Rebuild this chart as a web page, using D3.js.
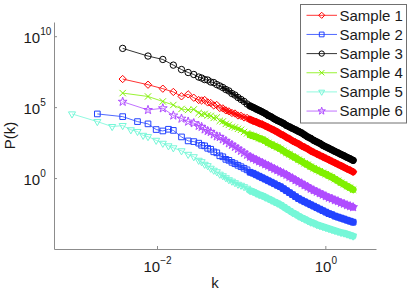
<!DOCTYPE html>
<html>
<head>
<meta charset="utf-8">
<script src="https://cdn.jsdelivr.net/npm/d3@7"></script>
<style>
  body { margin: 0; background: #fff; }
  text { font-family: "Liberation Sans", Arial, sans-serif; fill: #1a1a1a; }
</style>
</head>
<body>
<svg id="chart" width="415" height="292"></svg>
<script>
//data: log10 of k, shared grid (null = no point for that sample)
var log10k = [-3.01, -2.709, -2.533, -2.408, -2.311, -2.232, -2.165, -2.107, -2.01, -1.931, -1.864, -1.806, -1.709, -1.63, -1.563, -1.505,
  -1.47, -1.434, -1.398, -1.362, -1.326, -1.29, -1.254, -1.218, -1.182, -1.146, -1.11, -1.074, -1.038, -1.002, -0.966, -0.93, -0.894,
  -0.858, -0.822, -0.786, -0.75, -0.714, -0.678, -0.642, -0.606, -0.57, -0.534, -0.498, -0.462, -0.426, -0.39, -0.354, -0.318, -0.282,
  -0.246, -0.21, -0.174, -0.138, -0.102, -0.066, -0.03, 0.006, 0.042, 0.078, 0.114, 0.15, 0.186, 0.222, 0.258, 0.294, 0.33]

//log10 of P(k) for each sample
var log10P1 = [null, null, null, 6.98, null, null, null, 6.58, null, 6.30, null, 6.07, 5.76, 5.90, 5.66, 5.50,
  5.47, 5.50, 5.33, 5.29, 5.12, 5.15, 4.94, 4.91, 4.77, 4.70, 4.59, 4.55, 4.41, 4.38, 4.27, 4.24, 4.13, 4.03, 3.96, 3.85, 3.78, 3.68,
  3.57, 3.47, 3.36, 3.25, 3.11, 3.01, 2.87, 2.76, 2.62, 2.52, 2.41, 2.27, 2.17, 2.06, 1.92, 1.81, 1.71, 1.60, 1.50, 1.39, 1.29, 1.18,
  1.08, 0.97, 0.87, 0.76, 0.65, 0.55, 0.44]
var log10P2 = [null, 4.52, null, 4.33, null, 3.98, null, 3.82, 3.42, 3.32, 3.44, 3.36, 2.90, 2.62, 2.57, 2.46,
  2.31, 2.27, 2.10, 2.03, 1.85, 1.78, 1.57, 1.50, 1.32, 1.25, 1.11, 1.01, 0.90, 0.80, 0.69, 0.58, 0.41, 0.34, 0.23, 0.13, 0.02, -0.08,
  -0.19, -0.29, -0.40, -0.51, -0.61, -0.75, -0.89, -1.03, -1.17, -1.31, -1.45, -1.56, -1.67, -1.77, -1.88, -1.98, -2.09, -2.19, -2.30,
  -2.40, -2.51, -2.58, -2.68, -2.75, -2.82, -2.89, -2.97, -3.04, -3.11]
var log10P3 = [null, null, null, 9.14, null, null, null, 8.60, null, 8.36, null, 7.96, 7.65, 7.44, 7.30, 7.12,
  7.05, 6.94, 6.91, 6.77, 6.73, 6.59, 6.49, 6.38, 6.24, 6.14, 5.96, 5.85, 5.68, 5.54, 5.40, 5.22, 5.08, 4.98, 4.87, 4.77, 4.66, 4.55,
  4.41, 4.31, 4.17, 4.06, 3.96, 3.85, 3.71, 3.61, 3.50, 3.40, 3.29, 3.18, 3.04, 2.90, 2.80, 2.66, 2.55, 2.45, 2.31, 2.20, 2.10, 1.99,
  1.88, 1.78, 1.67, 1.57, 1.46, 1.36, 1.25]
var log10P4 = [null, null, null, 5.99, null, null, null, 5.75, null, 5.40, null, 5.15, 4.87, 4.80, 4.84, 4.59,
  4.48, 4.52, 4.41, 4.38, 4.24, 4.27, 4.03, 3.99, 3.82, 3.75, 3.61, 3.57, 3.47, 3.40, 3.25, 3.15, 3.04, 2.97, 2.90, 2.80, 2.73, 2.62,
  2.48, 2.38, 2.27, 2.17, 2.06, 1.92, 1.78, 1.67, 1.53, 1.43, 1.29, 1.18, 1.04, 0.94, 0.80, 0.69, 0.58, 0.48, 0.37, 0.27, 0.16, 0.06,
  -0.08, -0.19, -0.33, -0.44, -0.58, -0.68, -0.82]
var log10P5 = [4.52, 3.98, 3.63, 3.70, 3.40, 3.28, 3.01, 2.92, 2.66, 2.45, 2.27, 2.13, 1.92, 1.67, 1.50, 1.25,
  1.15, 0.97, 0.87, 0.69, 0.55, 0.44, 0.27, 0.16, 0.02, -0.12, -0.22, -0.33, -0.44, -0.51, -0.61, -0.72, -0.89, -0.96, -1.07, -1.17,
  -1.24, -1.35, -1.45, -1.56, -1.67, -1.77, -1.88, -2.02, -2.16, -2.30, -2.44, -2.54, -2.68, -2.79, -2.89, -3.00, -3.11, -3.18, -3.28,
  -3.35, -3.42, -3.49, -3.56, -3.63, -3.70, -3.77, -3.84, -3.88, -3.95, -4.02, -4.09]
var log10P6 = [null, null, null, 5.38, null, null, null, 4.80, null, 4.92, null, 4.41, 4.19, 3.98, 3.87, 3.68,
  3.61, 3.43, 3.32, 3.25, 3.08, 2.94, 2.90, 2.73, 2.62, 2.45, 2.34, 2.20, 2.06, 1.92, 1.78, 1.64, 1.50, 1.39, 1.29, 1.18, 1.08, 0.97,
  0.87, 0.76, 0.65, 0.55, 0.44, 0.34, 0.23, 0.09, -0.01, -0.15, -0.26, -0.37, -0.51, -0.61, -0.75, -0.86, -0.96, -1.07, -1.17, -1.28,
  -1.38, -1.45, -1.56, -1.63, -1.74, -1.81, -1.91, -1.98, -2.05]

var sampleNames = ["Sample 1", "Sample 2", "Sample 3", "Sample 4", "Sample 5", "Sample 6"]
var sampleValues = [log10P1, log10P2, log10P3, log10P4, log10P5, log10P6]
var sampleColors = ["#ff0000", "#2343ff", "#000000", "#7ff000", "#76f7d8", "#b04cff"]

var xTicks = [-2, 0]          // exponents
var yTicks = [0, 5, 10]

//styles
var symbols = [
  {type: d3.symbolDiamond2, size: 34, rot: 0},
  {type: d3.symbolSquare, size: 32, rot: 0},
  {type: d3.symbolCircle, size: 32, rot: 0},
  {type: d3.symbolTimes, size: 28, rot: 0},
  {type: d3.symbolTriangle2, size: 36, rot: 180},
  {type: d3.symbolStar, size: 24, rot: 0}
]

var dimensions = {
  width: 415,
  height: 292,
  margin: { top: 22, bottom: 43, left: 54, right: 39 }
}

var svg = d3.select("#chart")

var xScale = d3.scaleLog()
  .domain([Math.pow(10, -3.224), Math.pow(10, 0.602)])
  .range([dimensions.margin.left, dimensions.width - dimensions.margin.right])

var yScale = d3.scaleLog()
  .domain([1e-5, 1e11])
  .range([dimensions.height - dimensions.margin.bottom, dimensions.margin.top])

var series = sampleNames.map((name, i) => ({
  name: name,
  color: sampleColors[i],
  sym: symbols[i],
  points: log10k
    .map((lk, j) => ({ k: Math.pow(10, lk), v: sampleValues[i][j] }))
    .filter(d => d.v != null)
    .map(d => ({ k: d.k, p: Math.pow(10, d.v) }))
}))

//axes
var axisColor = "#8c8c8c"

function supLabel(sel, exps) {
  sel.each(function(d, i) {
    var t = d3.select(this).text(null)
    t.append("tspan").text("10")
    var e = exps[i]
    t.append("tspan")
      .attr("dy", -7.5)
      .attr("font-size", 10)
      .text(e < 0 ? "\u2212" + Math.abs(e) : e)
  })
}

var xAxis = svg.append("g")
  .attr("transform", `translate(0,${dimensions.height - dimensions.margin.bottom})`)
  .call(d3.axisBottom(xScale).tickValues(xTicks.map(e => Math.pow(10, e))).tickSizeInner(-3).tickSizeOuter(0))
xAxis.select(".domain").attr("stroke", axisColor)
xAxis.selectAll(".tick line").attr("stroke", axisColor)
xAxis.selectAll(".tick text")
  .attr("y", 22.5).attr("dy", null)
  .attr("font-size", 15).attr("font-family", null)
  .call(supLabel, xTicks)

var yAxis = svg.append("g")
  .attr("transform", `translate(${dimensions.margin.left},0)`)
  .call(d3.axisLeft(yScale).tickValues(yTicks.map(e => Math.pow(10, e))).tickSizeInner(-3).tickSizeOuter(0))
yAxis.select(".domain").attr("stroke", axisColor)
yAxis.selectAll(".tick line").attr("stroke", axisColor)
yAxis.selectAll(".tick text")
  .attr("x", -30.5).attr("y", 6).attr("dy", null)
  .attr("text-anchor", "start")
  .attr("font-size", 15).attr("font-family", null)
  .call(supLabel, yTicks)

svg.append("text")
  .attr("x", (dimensions.margin.left + dimensions.width - dimensions.margin.right) / 2)
  .attr("y", 288)
  .attr("text-anchor", "middle")
  .attr("font-size", 15)
  .text("k")

svg.append("text")
  .attr("transform", `translate(14.5,${(dimensions.margin.top + dimensions.height - dimensions.margin.bottom) / 2}) rotate(-90)`)
  .attr("text-anchor", "middle")
  .attr("font-size", 15)
  .text("P(k)")

//lines + markers
var line = d3.line()
  .x(d => xScale(d.k))
  .y(d => yScale(d.p))

// where markers pile up: partly (mid) and into a solid band (dense)
var midFrom = 222
var denseFrom = 250

series.forEach(s => {
  var g = svg.append("g")
  g.append("path")
    .datum(s.points)
    .attr("d", line)
    .attr("fill", "none")
    .attr("stroke", s.color)
    .attr("stroke-width", 0.8)
  g.append("path")
    .datum(s.points.filter(d => xScale(d.k) >= midFrom && xScale(d.k) <= denseFrom + 4))
    .attr("d", line)
    .attr("fill", "none")
    .attr("stroke", s.color)
    .attr("stroke-width", 3.5)
    .attr("stroke-opacity", 0.8)
    .attr("stroke-linecap", "round")
  g.append("path")
    .datum(s.points.filter(d => xScale(d.k) >= denseFrom))
    .attr("d", line)
    .attr("fill", "none")
    .attr("stroke", s.color)
    .attr("stroke-width", 7)
    .attr("stroke-linecap", "round")
    .attr("stroke-linejoin", "round")
  g.selectAll(".dot")
    .data(s.points)
    .enter()
    .append("path")
      .attr("class", "dot")
      .attr("transform", d => `translate(${xScale(d.k)},${yScale(d.p)}) rotate(${s.sym.rot})`)
      .attr("d", d3.symbol().type(s.sym.type).size(s.sym.size))
      .attr("fill", "none")
      .attr("stroke", s.color)
      .attr("stroke-width", 1)
})

//legend
var legend = svg.append("g")
legend.append("rect")
  .attr("x", 300.5).attr("y", 4.5)
  .attr("width", 106).attr("height", 118.5)
  .attr("fill", "#fff")
  .attr("stroke", "#707070")

var entries = legend.selectAll(".entry")
  .data(series)
  .enter()
  .append("g")
  .attr("transform", (d, i) => `translate(0,${15.3 + i * 19.15})`)

entries.append("line")
  .attr("x1", 306.5).attr("x2", 337)
  .attr("stroke", d => d.color)
  .attr("stroke-width", 0.8)
entries.append("path")
  .attr("transform", d => `translate(321.7,0) rotate(${d.sym.rot})`)
  .attr("d", d => d3.symbol().type(d.sym.type).size(d.sym.size * 0.7)())
  .attr("fill", "none")
  .attr("stroke", d => d.color)
entries.append("text")
  .attr("x", 339.5)
  .attr("y", 5.4)
  .attr("font-size", 15)
  .text(d => d.name)
</script>
</body>
</html>
